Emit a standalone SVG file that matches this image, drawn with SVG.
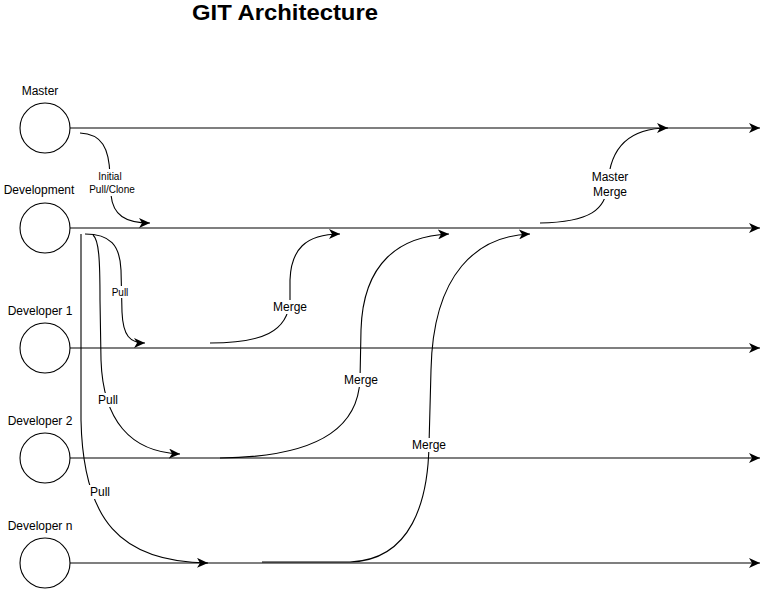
<svg xmlns="http://www.w3.org/2000/svg" width="770" height="589" viewBox="0 0 770 589">
<style>
text{font-family:"Liberation Sans",Arial,sans-serif;fill:#000}
.lbl{font-size:12px;text-anchor:middle}
.el{font-size:12px;text-anchor:middle}
.sm{font-size:10px;text-anchor:middle}
.node circle{fill:#fff;stroke:#000;stroke-width:1.1}
.ln{fill:none;stroke:#000;stroke-width:1.1}
.bg{fill:#fff}
</style>
<defs>
<marker id="arr" markerUnits="userSpaceOnUse" markerWidth="12" markerHeight="10" refX="11" refY="5" orient="auto" viewBox="0 0 12 10">
<path d="M0,0 L11,5 L0,10 L3,5 Z" fill="#000"/>
</marker>
</defs>
<rect width="770" height="589" fill="#fff"/>
<text x="285" y="20" font-size="22" font-weight="bold" text-anchor="middle" textLength="186" lengthAdjust="spacingAndGlyphs">GIT Architecture</text>

<g id="connectors">
<path class="ln" d="M70,128 H760" marker-end="url(#arr)"/>
<path class="ln" d="M70,228 H760" marker-end="url(#arr)"/>
<path class="ln" d="M70,348 H760" marker-end="url(#arr)"/>
<path class="ln" d="M70,458 H760" marker-end="url(#arr)"/>
<path class="ln" d="M70,563 H760" marker-end="url(#arr)"/>
<path class="ln" d="M80,133 C102,134 109,148 110,175 L111,195 C113,215 125,223 150,223" marker-end="url(#arr)"/>
<path class="ln" d="M85,234 C110,234 120,245 121,270 L122,312 C123,336 130,343 145,343" marker-end="url(#arr)"/>
<path class="ln" d="M93,235 C99,240 100,260 100,300 L101,360 C103,420 130,452 180,454" marker-end="url(#arr)"/>
<path class="ln" d="M81,234 L81,420 C83,520 120,562 208,563" marker-end="url(#arr)"/>
<path class="ln" d="M210,343 C262,343 288,332 290,300 L290,280 C291,250 305,234 340,234" marker-end="url(#arr)"/>
<path class="ln" d="M220,458 C330,457 358,420 360,380 L361,330 C363,262 400,236 449,234" marker-end="url(#arr)"/>
<path class="ln" d="M262,562 L350,562 C412,560 428,500 429,445 L431,370 C433,272 478,236 530,234" marker-end="url(#arr)"/>
<path class="ln" d="M540,223 C590,222 606,210 608,184 C610,146 630,128 668,128" marker-end="url(#arr)"/>
</g>

<g id="edge-labels">
<rect class="bg" x="94" y="169" width="40" height="27"/>
<text class="sm" x="110" y="180">Initial</text>
<text class="sm" x="112" y="193">Pull/Clone</text>
<rect class="bg" x="111" y="286" width="18" height="12"/>
<text class="sm" x="120" y="296">Pull</text>
<rect class="bg" x="96" y="393" width="25" height="14"/>
<text class="el" x="108" y="404">Pull</text>
<rect class="bg" x="88" y="485" width="25" height="14"/>
<text class="el" x="100" y="496">Pull</text>
<rect class="bg" x="272" y="300" width="36" height="14"/>
<text class="el" x="290" y="311">Merge</text>
<rect class="bg" x="343" y="373" width="36" height="14"/>
<text class="el" x="361" y="384">Merge</text>
<rect class="bg" x="411" y="438" width="36" height="14"/>
<text class="el" x="429" y="449">Merge</text>
<rect class="bg" x="590" y="169" width="40" height="30"/>
<text class="el" x="610" y="181">Master</text>
<text class="el" x="610" y="196">Merge</text>
</g>

<g id="master" class="node"><circle cx="45" cy="128" r="25"/><text class="lbl" x="40" y="95">Master</text></g>
<g id="development" class="node"><circle cx="45" cy="228" r="25"/><text class="lbl" x="39" y="194">Development</text></g>
<g id="developer1" class="node"><circle cx="45" cy="348" r="25"/><text class="lbl" x="40" y="315">Developer 1</text></g>
<g id="developer2" class="node"><circle cx="45" cy="458" r="25"/><text class="lbl" x="40" y="425">Developer 2</text></g>
<g id="developern" class="node"><circle cx="45" cy="563" r="25"/><text class="lbl" x="40" y="530">Developer n</text></g>
</svg>
